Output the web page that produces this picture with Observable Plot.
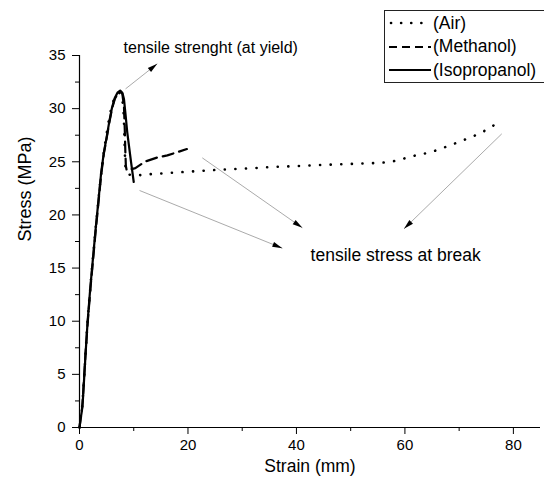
<!DOCTYPE html>
<html><head><meta charset="utf-8">
<script src="https://cdn.jsdelivr.net/npm/d3@7"></script>
<script src="https://cdn.jsdelivr.net/npm/@observablehq/plot@0.6"></script>
<style>
body{margin:0;background:#fff;overflow:hidden;}
#wrap{position:relative;width:544px;height:481px;font-family:"Liberation Sans",Arial,sans-serif;}
#legend{position:absolute;left:384px;top:10px;width:175px;height:71px;border:1px solid #222;background:#fff;}
.row{position:absolute;left:0;height:24px;display:flex;align-items:center;font-size:17.5px;color:#000;white-space:nowrap;}
.row svg{margin-left:4px;margin-right:2px;}
</style></head><body><div id="wrap"></div>
<script>
// ---- data ----
const seriesNames = ["(Air)", "(Methanol)", "(Isopropanol)"];
const airX = [0,0.25,0.5,0.8,1.1,1.4,1.8,2.3,2.8,3.3,3.8,4.3,4.8,5.3,5.8,6.3,6.8,7.3,7.8,8.1,8.25,8.35,8.5,9.0,10.5,12,15,18,21,24,28,32,35,40,44.5,50,55.5,57.5,59.8,62,64.8,67,69.1,72.1,74,76.6];
const airY = [0,1.0,2.0,4.2,6.8,9.4,12.0,15.0,17.8,20.4,23.0,25.2,27.0,28.6,29.9,30.8,31.3,31.5,31.2,30.0,28.0,26.0,24.2,23.8,23.7,23.8,23.9,24.0,24.1,24.2,24.3,24.4,24.5,24.6,24.7,24.8,24.9,25.0,25.3,25.6,25.9,26.3,26.7,27.3,27.7,28.5];
const methX = [0,0.25,0.5,0.8,1.1,1.5,2.0,2.5,3.0,3.5,4.0,4.5,5.0,5.5,6.0,6.5,7.0,7.5,7.9,8.2,8.35,8.45,8.55,8.7,10.3,12,14.3,16.2,18,19.8];
const methY = [0,1.0,1.9,4.3,6.9,9.8,13.0,15.8,18.6,21.2,23.8,25.8,27.2,28.7,30.0,30.9,31.4,31.6,31.4,30.2,28.0,26.0,24.6,24.2,24.4,25.0,25.4,25.6,25.9,26.2];
const isoX = [0,0.2,0.45,0.6,0.9,1.2,1.5,2.0,2.5,3.0,3.5,4.0,4.5,5.0,5.5,6.0,6.5,7.0,7.5,7.9,8.2,8.5,8.8,9.1,9.5,10.0];
const isoY = [0,0.8,1.6,2.4,5.0,7.6,10.0,13.2,16.0,18.8,21.4,24.0,25.9,27.3,28.8,30.1,31.0,31.5,31.7,31.5,30.9,29.4,27.8,26.6,25.0,23.1];
const xMajorTicks = [0,20,40,60,80];
const xMinorTicks = [10,30,50,70];
const yMajorTicks = [0,5,10,15,20,25,30,35];
const yMinorTicks = [2.5,7.5,12.5,17.5,22.5,27.5,32.5];
const xLabel = "Strain (mm)";
const yLabel = "Stress (MPa)";
const noteYield = "tensile strenght (at yield)";
const noteBreak = "tensile stress at break";
const yieldNoteAt = [24.2, 35.75];
const breakNoteAt = [58.3, 16.2];
const arrowX1 = [8.49, 22.64, 11.07, 77.86];
const arrowY1 = [31.86, 25.37, 22.30, 27.63];
const arrowX2 = [14.34, 41.09, 37.40, 59.83];
const arrowY2 = [34.22, 18.79, 16.87, 18.69];

// ---- layout ----
const W = 544, H = 481, ML = 79, MR = 4, MT = 55, MB = 54;
const XMAX = 85, YMAX = 35;
const kx = (W - ML - MR) / XMAX, ky = (H - MT - MB) / YMAX;

const toRows = (xs, ys) => xs.map((x, i) => ({x, y: ys[i]}));
const air = toRows(airX, airY), meth = toRows(methX, methY), iso = toRows(isoX, isoY);
const arrows = arrowX1.map((x1, i) => ({x1, y1: arrowY1[i], x2: arrowX2[i], y2: arrowY2[i],
  rot: Math.atan2((arrowX2[i] - x1) * kx, (arrowY2[i] - arrowY1[i]) * ky) * 180 / Math.PI}));

const triangle = {draw(ctx, l) { ctx.moveTo(0, -l); ctx.lineTo(-2.6, 0); ctx.lineTo(2.6, 0); ctx.closePath(); }};

const plot = Plot.plot({
  width: W, height: H,
  marginLeft: ML, marginRight: MR, marginTop: MT, marginBottom: MB,
  x: {domain: [0, XMAX], axis: null},
  y: {domain: [0, YMAX], axis: null},
  style: {fontFamily: "'Liberation Sans', Arial, sans-serif", fontSize: "15px", color: "#000", background: "#fff", overflow: "visible"},
  marks: [
    Plot.axisX(xMajorTicks, {tickSize: 7, tickPadding: 5, label: null, fontSize: 15, tickFormat: d => String(d)}),
    Plot.axisX(xMinorTicks, {tickSize: 4, label: null, tickFormat: () => ""}),
    Plot.axisY(yMajorTicks, {tickSize: 7, tickPadding: 7, label: null, fontSize: 15, tickFormat: d => String(d)}),
    Plot.axisY(yMinorTicks, {tickSize: 4, label: null, tickFormat: () => ""}),
    Plot.ruleX([0], {y1: 0, y2: YMAX, stroke: "#000", strokeWidth: 1.2}),
    Plot.ruleY([0], {x1: 0, x2: XMAX, stroke: "#000", strokeWidth: 1.2}),
    Plot.text([xLabel], {frameAnchor: "bottom", dy: 44, fontSize: 17.5}),
    Plot.text([yLabel], {frameAnchor: "left", dx: -54, rotate: -90, fontSize: 18}),
    Plot.line(air, {x: "x", y: "y", stroke: "#000", strokeWidth: 2.6, strokeDasharray: "0.1 10.5", strokeLinecap: "round"}),
    Plot.line(meth, {x: "x", y: "y", stroke: "#000", strokeWidth: 2.2, strokeDasharray: "11 6"}),
    Plot.line(iso, {x: "x", y: "y", stroke: "#000", strokeWidth: 2.2}),
    Plot.link(arrows, {x1: "x1", y1: "y1", x2: "x2", y2: "y2", stroke: "#a0a0a0", strokeWidth: 0.9}),
    Plot.vector(arrows, {x: "x2", y: "y2", rotate: "rot", length: 10, anchor: "end", shape: triangle, fill: "#000", stroke: "none"}),
    Plot.text([noteYield], {x: () => yieldNoteAt[0], y: () => yieldNoteAt[1], fontSize: 16}),
    Plot.text([noteBreak], {x: () => breakNoteAt[0], y: () => breakNoteAt[1], fontSize: 17.5})
  ]
});

const wrap = document.getElementById("wrap");
wrap.appendChild(plot);

// legend
const dashes = ["0.1 10", "8 5", null];
const widths = [2.6, 2.2, 2.2];
const legend = document.createElement("div");
legend.id = "legend";
seriesNames.forEach((name, i) => {
  const row = document.createElement("div");
  row.className = "row";
  row.style.top = (i * 23.5) + "px";
  const ns = "http://www.w3.org/2000/svg";
  const svg = document.createElementNS(ns, "svg");
  svg.setAttribute("width", 42); svg.setAttribute("height", 10);
  const ln = document.createElementNS(ns, "line");
  ln.setAttribute("x1", i === 0 ? 2 : 0); ln.setAttribute("x2", 42);
  ln.setAttribute("y1", 5); ln.setAttribute("y2", 5);
  ln.setAttribute("stroke", "#000"); ln.setAttribute("stroke-width", widths[i]);
  if (dashes[i]) ln.setAttribute("stroke-dasharray", dashes[i]);
  if (i === 0) ln.setAttribute("stroke-linecap", "round");
  svg.appendChild(ln);
  row.appendChild(svg);
  const sp = document.createElement("span");
  sp.textContent = name;
  row.appendChild(sp);
  legend.appendChild(row);
});
wrap.appendChild(legend);
</script>
</body></html>
